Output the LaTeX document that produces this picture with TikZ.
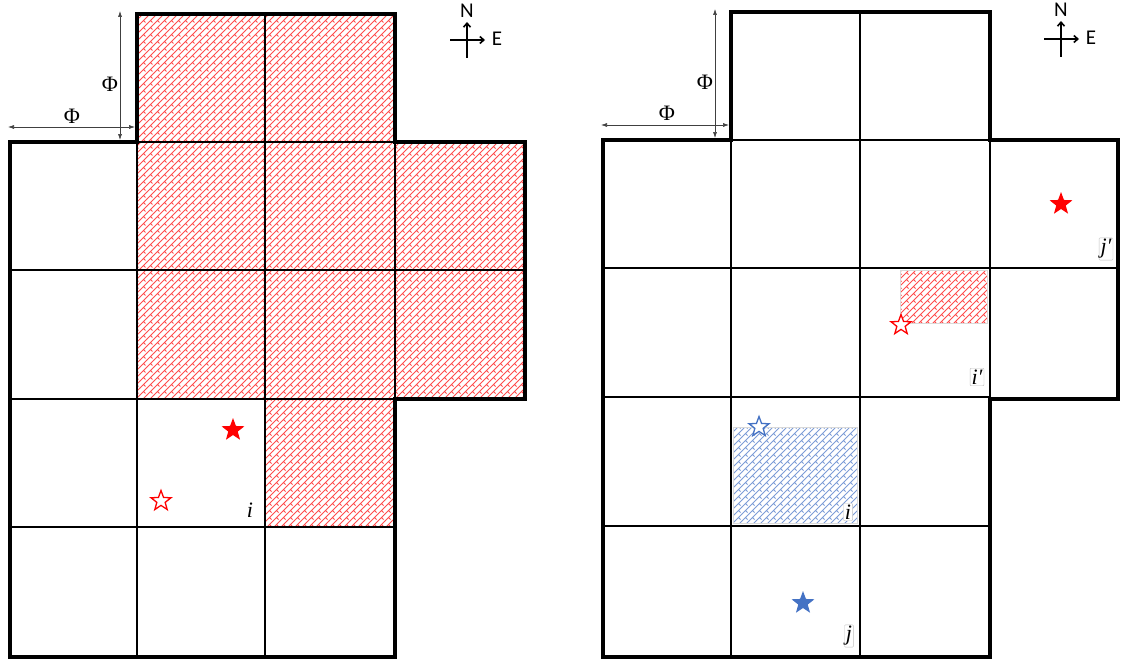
\documentclass[tikz,border=0pt]{standalone}
\usepackage{amsmath}
\usepackage{amssymb}
\usepackage{fontspec}
\newfontfamily\compassfont{Carlito}
\newfontfamily\labelfont{Liberation Serif}
\usepackage{tikz}
\usetikzlibrary{patterns,shapes.geometric,arrows.meta}

\definecolor{officeblue}{RGB}{68,114,196}

% diagonal brick hatching
\pgfdeclarepatternformonly{diagbrick}{\pgfqpoint{-0.5pt}{-0.5pt}}{\pgfqpoint{7.5pt}{7.5pt}}{\pgfqpoint{7pt}{7pt}}{%
	\pgfsetlinewidth{0.8pt}
	\pgfpathmoveto{\pgfqpoint{0pt}{0pt}}
	\pgfpathlineto{\pgfqpoint{7pt}{7pt}}
	\pgfpathmoveto{\pgfqpoint{3.5pt}{3.5pt}}
	\pgfpathlineto{\pgfqpoint{5.5pt}{1.5pt}}
	\pgfusepath{stroke}}

\begin{document}
\begin{tikzpicture}[x=1pt,y=-1pt,font=\labelfont\fontsize{22}{24}\selectfont,
		wall/.style={line width=4.5pt,line join=miter},
		cell/.style={line width=1.2pt},
		redhatch/.style={pattern=diagbrick,pattern color=red!70},
		bluehatch/.style={pattern=diagbrick,pattern color=officeblue!70},
		dimline/.style={{Latex[length=6pt,width=4pt]}-{Latex[length=6pt,width=4pt]},black!75,line width=0.6pt},
		compassarrow/.style={-{Straight Barb[length=4pt,width=7pt]},line width=1.6pt},
		compasstext/.style={font=\compassfont\fontsize{21}{22}\selectfont,inner sep=1pt},
		labeltext/.style={font=\labelfont\itshape\fontsize{22}{24}\selectfont},
		starfull/.style={star,star points=5,star point ratio=2.4,minimum size=24pt,inner sep=0pt},
		starhollow/.style={star,star points=5,star point ratio=2.4,minimum size=21pt,inner sep=0pt,line width=1.3pt,fill=white},
		tag/.style={labeltext,draw=black!25,rounded corners=1pt,inner sep=1.5pt,fill=white}]
	\useasboundingbox (0,0) rectangle (1121,661);
	% left plan: hatched cells
	\fill[redhatch] (137,14) rectangle (395,142);
	\fill[redhatch] (137,142) rectangle (525,399);
	\fill[redhatch] (265,399) rectangle (395,527);
	% left plan: cell lines
	\draw[cell] (137,142) -- (137,657);
	\draw[cell] (265,14) -- (265,657);
	\draw[cell] (395,142) -- (395,399);
	\draw[cell] (137,142) -- (395,142);
	\draw[cell] (10,270) -- (525,270);
	\draw[cell] (10,399) -- (395,399);
	\draw[cell] (10,527) -- (395,527);
	% left plan: outer wall
	\draw[wall] (10,142) -- (137,142) -- (137,14) -- (395,14) -- (395,142) -- (525,142) -- (525,399) -- (395,399) -- (395,657) -- (10,657) -- cycle;
	% cell size
	\coordinate (lvtop) at (120,11);
	\coordinate (lvbot) at (120,140);
	\coordinate (lhl) at (8,127);
	\coordinate (lhr) at (135,127);
	\draw[dimline] (lvtop) -- (lvbot);
	\draw[dimline] (lhl) -- (lhr);
	\node (lphiv) at (110,84) {Φ};
	\node (lphih) at (72,116) {Φ};
	% compass
	\coordinate (lcs) at (467,58);
	\coordinate (lcn) at (467,22);
	\coordinate (lcw) at (450,40);
	\coordinate (lce) at (485,40);
	\draw[compassarrow] (lcs) -- (lcn);
	\draw[compassarrow] (lcw) -- (lce);
	\node[compasstext] (lN) at (467,11) {N};
	\node[compasstext] (lE) at (497,39) {E};
	% stars and label
	\node[starfull,fill=red] (lsfull) at (233,430) {};
	\node[starhollow,draw=red] (lshollow) at (161,501) {};
	\node[labeltext] (li) at (250,510) {i};

	% right plan: hatched areas
	\filldraw[redhatch,draw=black!15] (900,270) rectangle (987,323);
	\filldraw[bluehatch,draw=black!15] (733,427) rectangle (857,523);
	% right plan: cell lines
	\draw[cell] (731,140) -- (731,657);
	\draw[cell] (860,12) -- (860,657);
	\draw[cell] (990,140) -- (990,397);
	\draw[cell] (731,140) -- (990,140);
	\draw[cell] (603,268) -- (1118,268);
	\draw[cell] (603,397) -- (990,397);
	\draw[cell] (603,526) -- (990,526);
	% right plan: outer wall
	\draw[wall] (603,140) -- (731,140) -- (731,12) -- (990,12) -- (990,140) -- (1118,140) -- (1118,399) -- (990,399) -- (990,657) -- (603,657) -- cycle;
	% cell size
	\coordinate (rvtop) at (715,9);
	\coordinate (rvbot) at (715,138);
	\coordinate (rhl) at (601,125);
	\coordinate (rhr) at (729,125);
	\draw[dimline] (rvtop) -- (rvbot);
	\draw[dimline] (rhl) -- (rhr);
	\node (rphiv) at (705,82) {Φ};
	\node (rphih) at (667,113) {Φ};
	% compass
	\coordinate (rcs) at (1061,57);
	\coordinate (rcn) at (1061,21);
	\coordinate (rcw) at (1044,39);
	\coordinate (rce) at (1079,39);
	\draw[compassarrow] (rcs) -- (rcn);
	\draw[compassarrow] (rcw) -- (rce);
	\node[compasstext] (rN) at (1061,10) {N};
	\node[compasstext] (rE) at (1091,38) {E};
	% stars and labels
	\node[starfull,fill=red] (rsfullred) at (1061,204) {};
	\node[starhollow,draw=red] (rshollowred) at (901,325) {};
	\node[starhollow,draw=officeblue] (rshollowblue) at (759,427) {};
	\node[starfull,fill=officeblue] (rsfullblue) at (803,603) {};
	\node[tag] (rjp) at (1106,249) {j′};
	\node[tag] (rip) at (977,377) {i′};
	\node[tag] (ri) at (848,512) {i};
	\node[tag] (rj) at (849,636) {j};
\end{tikzpicture}
\end{document}
